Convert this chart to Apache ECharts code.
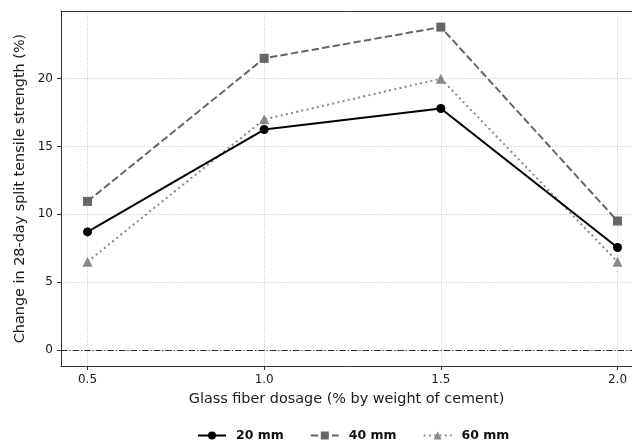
<!DOCTYPE html>
<html><head><meta charset="utf-8">
<script src="https://cdn.jsdelivr.net/npm/echarts@6/dist/echarts.min.js"></script>
<style>html,body{margin:0;padding:0;background:#fff}#c{width:632px;height:446px}</style>
</head><body><div id="c"></div>
<script>
const dosage = [0.5, 1.0, 1.5, 2.0];
const s20 = [8.7, 16.25, 17.8, 7.55];
const s40 = [10.95, 21.5, 23.8, 9.5];
const s60 = [6.5, 17.0, 20.0, 6.5];
const xTicks = [0.5, 1.0, 1.5, 2.0];
const yTicks = [0, 5, 10, 15, 20];
const seriesNames = ['20 mm', '40 mm', '60 mm'];

const font = 'DejaVu Sans';
const chart = echarts.init(document.getElementById('c'), null, {renderer: 'canvas'});
const pts = arr => dosage.map((d, i) => [d, arr[i]]);
const gridLine = {show: true, lineStyle: {color: '#bdbdbd', width: 0.8, type: [1, 1.6]}};
const xMin = 0.425, xMax = 2.041;
chart.setOption({
  animation: false,
  grid: {left: 61, top: 11, right: 0, bottom: 80, show: false},
  xAxis: [{
    type: 'value', min: xMin, max: xMax,
    name: 'Glass fiber dosage (% by weight of cement)', nameLocation: 'middle', nameGap: 26,
    nameTextStyle: {fontFamily: font, fontSize: 14.4, color: '#1a1a1a'},
    axisLine: {show: true, onZero: false, lineStyle: {color: '#333'}},
    axisTick: {show: true, customValues: xTicks, length: 4, lineStyle: {color: '#333'}},
    axisLabel: {customValues: xTicks, fontFamily: font, fontSize: 12, color: '#1a1a1a', margin: 8, formatter: v => v.toFixed(1)},
    splitLine: gridLine
  }, {
    type: 'value', position: 'top', min: xMin, max: xMax,
    axisLine: {show: true, onZero: false, lineStyle: {color: '#333'}},
    axisTick: {show: false}, axisLabel: {show: false}, splitLine: {show: false}
  }],
  yAxis: {
    type: 'value', min: -1.19, max: 24.99,
    name: 'Change in 28-day split tensile strength (%)', nameLocation: 'middle', nameGap: 31,
    nameTextStyle: {fontFamily: font, fontSize: 14.4, color: '#1a1a1a'},
    axisLine: {show: true, onZero: false, lineStyle: {color: '#333'}},
    axisTick: {show: true, customValues: yTicks, length: 4, lineStyle: {color: '#333'}},
    axisLabel: {customValues: yTicks, fontFamily: font, fontSize: 12, color: '#1a1a1a', margin: 8},
    splitLine: gridLine
  },
  legend: {
    top: 424, left: 192, itemGap: 26, itemWidth: 28, itemHeight: 10,
    textStyle: {fontFamily: font, fontSize: 12.5, fontWeight: 'bold', color: '#111', padding: [0, 0, 0, 5]},
    data: seriesNames
  },
  series: [
    {name: seriesNames[0], type: 'line', data: pts(s20), symbol: 'circle', symbolSize: 9,
     lineStyle: {color: '#000', width: 2, type: 'solid'}, itemStyle: {color: '#000'}, z: 5,
     markLine: {silent: true, symbol: 'none', label: {show: false},
       lineStyle: {color: '#2a2a2a', width: 1.2, type: [6.4, 2, 1.2, 2]}, data: [{yAxis: 0}]}},
    {name: seriesNames[1], type: 'line', data: pts(s40), symbol: 'rect', symbolSize: 9,
     lineStyle: {color: '#666', width: 2, type: [7.4, 3.2]}, itemStyle: {color: '#666'}, z: 4},
    {name: seriesNames[2], type: 'line', data: pts(s60), symbol: 'triangle', symbolSize: 10,
     lineStyle: {color: '#888', width: 2, type: [2, 3.3]}, itemStyle: {color: '#888'}, z: 3}
  ]
});
</script></body></html>
